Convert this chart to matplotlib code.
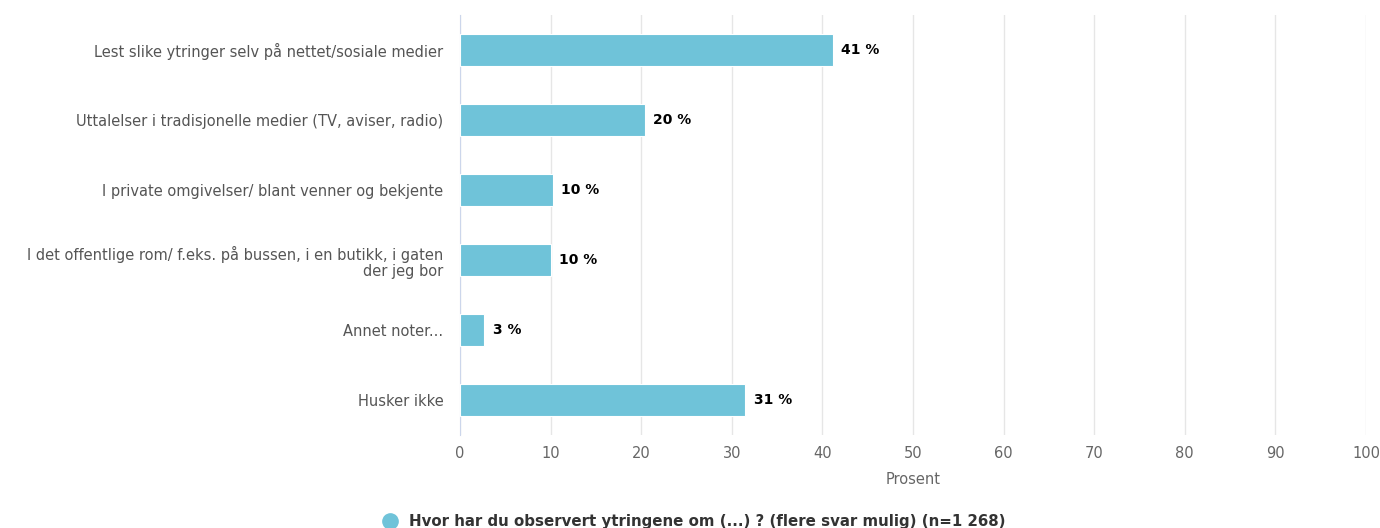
import numpy as np
import matplotlib.pyplot as plt
from matplotlib.lines import Line2D

# data
categories = [
    "Lest slike ytringer selv på nettet/sosiale medier",
    "Uttalelser i tradisjonelle medier (TV, aviser, radio)",
    "I private omgivelser/ blant venner og bekjente",
    "I det offentlige rom/ f.eks. på bussen, i en butikk, i gaten\nder jeg bor",
    "Annet noter...",
    "Husker ikke",
]
values = [41.2, 20.4, 10.3, 10.0, 2.7, 31.5]
labels = ["41 %", "20 %", "10 %", "10 %", "3 %", "31 %"]
series_name = "Hvor har du observert ytringene om (...) ? (flere svar mulig) (n=1 268)"

bar_color = "#6fc3d9"

fig = plt.figure(figsize=(13.8, 5.28), dpi=100)
ax = fig.add_axes([460/1380, 1-435/528, (1366-460)/1380, (435-15)/528])

y = np.arange(len(categories))
ax.barh(y, values, height=0.46, color=bar_color, edgecolor="white", linewidth=0.8, zorder=3)
for yi, v, lab in zip(y, values, labels):
    ax.text(v + 0.9, yi, lab, va="center", ha="left", fontsize=10, fontweight="bold", color="#000000")

ax.set_ylim(len(categories) - 0.5, -0.5)
ax.set_xlim(0, 100)
ax.set_xticks(np.arange(0, 101, 10))
ax.set_yticks(y)
ax.set_yticklabels(categories, fontsize=10.5, color="#555555", linespacing=1.1)
ax.tick_params(axis="x", colors="#666666", labelsize=10.5, length=0, pad=8)
ax.tick_params(axis="y", length=0, pad=12)
ax.grid(axis="x", color="#e6e6e6", linewidth=1, zorder=0)
for s in ["top", "right", "bottom"]:
    ax.spines[s].set_visible(False)
ax.spines["left"].set_color("#ccd6eb")
ax.set_xlabel("Prosent", fontsize=10.5, color="#666666", labelpad=8)

handle = Line2D([], [], marker="o", linestyle="", markersize=11, color=bar_color)
fig.legend([handle], [series_name], loc="center", bbox_to_anchor=(0.5, 0.012),
           frameon=False, prop={"weight": "bold", "size": 10.8}, labelcolor="#333333",
           handletextpad=0.3)

fig.savefig("out.png", dpi=100)
